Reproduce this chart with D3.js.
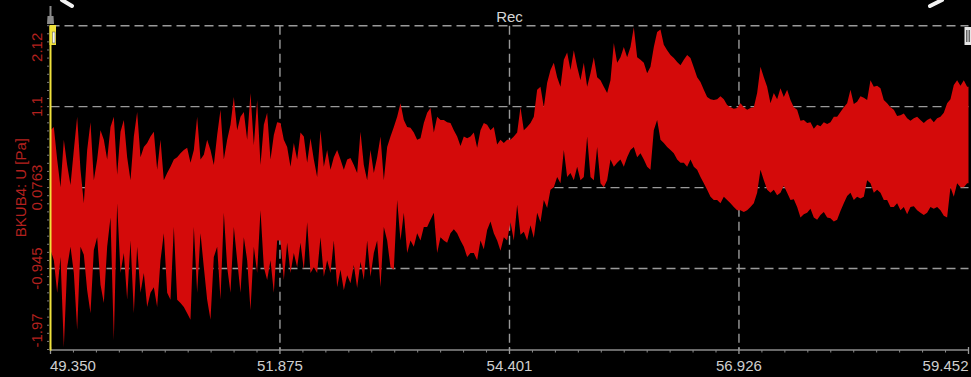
<!DOCTYPE html>
<html>
<head>
<meta charset="utf-8">
<script src="https://cdn.jsdelivr.net/npm/d3@7"></script>
<style>
  html, body { margin: 0; padding: 0; background: #000; overflow: hidden; }
  svg { display: block; }
</style>
</head>
<body>
<svg id="chart" width="971" height="377"></svg>
<script>
// ---- recording data -------------------------------------------------------
const chartTitle = "Rec";
const channelName = "BKUB4: U [Pa]";

const xTicks = [49.350, 51.875, 54.401, 56.926, 59.452];
const xTickLabels = ["49.350", "51.875", "54.401", "56.926", "59.452"];
const yTicks = [-1.9663, -0.945, 0.0763, 1.0976, 2.1189];
const yTickLabels = ["-1.97", "-0.945", "0.0763", "1.1", "2.12"];

// envelope samples (max / min of the pressure signal per display bin)
const tStart = 49.35;   // s
const tStep = 0.03668;  // s per bin

const peakMax = [
  // 49.35 s ...
  0.80,0.84,0.43,0.08,0.68,0.36,0.11,0.55,0.97,0.30,
  -0.12,0.55,0.90,0.17,0.43,0.80,0.68,0.43,0.84,0.97,
  0.24,0.78,0.93,0.46,0.17,0.72,1.03,0.46,0.59,0.64,
  0.72,0.78,0.30,0.68,0.17,0.26,0.34,0.43,0.46,0.51,
  0.55,0.58,0.39,0.55,0.97,0.43,0.49,0.68,0.55,0.36,
  0.74,1.06,0.43,0.68,0.87,1.22,0.80,0.97,1.03,0.68,
  1.27,0.61,1.18,0.36,0.87,1.02,0.43,0.74,0.90,
  // ~51.88 s ...
  0.89,0.68,0.59,0.34,0.64,0.43,0.77,0.72,0.39,0.70,
  0.43,0.21,0.80,0.34,0.55,0.30,0.46,0.55,0.43,0.30,
  0.43,0.45,0.36,0.26,0.78,0.36,0.17,0.55,0.26,0.46,
  0.72,0.17,0.59,0.72,0.84,0.97,1.14,0.93,0.84,0.83,
  0.77,0.68,0.70,0.89,1.02,1.08,0.77,0.97,0.93,0.93,
  0.90,0.89,0.80,0.72,0.60,0.72,0.70,0.72,0.77,0.58,
  0.80,0.89,0.87,0.80,0.84,0.62,0.68,0.64,0.68,
  // ~54.41 s ...
  0.68,0.72,0.77,1.09,0.80,0.84,0.89,0.97,1.31,1.35,
  1.09,1.40,1.56,1.65,1.47,1.35,1.69,1.78,1.56,1.81,
  1.60,1.43,1.65,1.35,1.52,1.72,1.47,1.43,1.35,1.27,
  1.43,1.90,1.65,1.72,1.85,1.72,1.85,2.10,1.72,1.69,
  1.65,1.52,1.60,1.85,2.04,2.07,1.88,1.81,1.75,1.71,
  1.66,1.62,1.69,1.75,1.71,1.59,1.47,1.41,1.31,1.22,
  1.19,1.18,1.19,1.23,1.19,1.12,1.09,1.07,1.08,
  // ~56.94 s ...
  1.14,1.09,1.06,1.08,1.09,1.27,1.60,1.47,1.35,1.14,
  1.27,1.19,1.33,1.22,1.31,1.18,1.09,1.06,0.92,0.93,
  0.89,0.90,0.82,0.87,0.85,0.90,0.88,0.90,0.97,0.97,
  1.03,1.09,1.14,1.31,1.13,1.16,1.23,1.21,1.18,1.43,
  1.35,1.36,1.33,1.18,1.14,1.09,1.06,0.98,0.99,1.01,
  0.95,0.92,0.95,0.97,0.93,0.89,0.93,0.95,0.90,0.95,
  0.97,1.02,1.14,1.19,1.37,1.43,1.36,1.43,1.35,1.35
];

const peakMin = [
  // 49.35 s ...
  -0.71,-0.84,-1.25,-0.80,-1.94,-0.93,-0.67,-1.00,-1.72,-0.67,
  -0.77,-1.22,-1.51,-0.71,-0.55,-1.15,-1.38,-0.67,-0.30,-1.85,
  -0.12,-1.00,-0.75,-1.34,-0.59,-1.51,-0.67,-1.25,-1.00,-1.43,
  -1.25,-1.18,-1.43,-0.84,-0.50,-1.25,-1.34,-0.42,-1.34,-1.38,
  -1.43,-1.51,-1.59,-0.42,-1.25,-0.50,-0.93,-1.34,-1.59,-0.80,
  -0.67,-1.34,-0.24,-0.93,-1.25,-0.42,-0.84,-1.25,-0.55,-0.84,
  -1.47,-0.67,-1.00,-0.21,-0.93,-1.09,-0.84,-1.25,-0.59,
  // ~51.88 s ...
  -0.59,-1.09,-0.62,-1.00,-0.75,-0.93,-0.62,-0.96,-0.36,-1.00,
  -0.93,-1.00,-0.55,-1.05,-0.84,-1.00,-0.59,-1.18,-0.96,-1.22,
  -1.03,-1.13,-0.90,-1.19,-0.86,-1.09,-0.59,-1.05,-0.75,-0.59,
  -1.18,-0.42,-0.59,-0.93,-0.96,-0.08,-0.59,-0.24,-0.75,-0.59,
  -0.67,-0.50,-0.59,-0.42,-0.42,-0.33,-0.24,-0.75,-0.55,-0.59,
  -0.62,-0.50,-0.45,-0.50,-0.59,-0.67,-0.80,-0.75,-0.75,-0.84,
  -0.59,-0.70,-0.46,-0.35,-0.50,-0.59,-0.72,-0.55,-0.59,
  // ~54.41 s ...
  -0.36,-0.59,-0.14,-0.52,-0.48,-0.59,-0.40,-0.56,-0.24,-0.36,
  -0.08,-0.18,0.05,0.08,0.21,0.13,0.55,0.21,0.26,0.17,
  0.34,0.17,0.21,0.72,0.21,0.17,0.59,0.13,0.08,0.17,
  0.43,0.34,0.39,0.43,0.34,0.46,0.55,0.59,0.46,0.51,
  0.43,0.34,0.30,0.80,0.93,0.68,0.64,0.59,0.55,0.51,
  0.43,0.39,0.39,0.34,0.43,0.34,0.30,0.21,0.13,0.05,
  -0.04,-0.08,-0.08,-0.12,-0.04,-0.08,-0.12,-0.17,-0.21,
  // ~56.94 s ...
  -0.21,-0.23,-0.21,-0.17,-0.12,0.01,0.30,0.17,0.05,0.01,
  0.05,-0.02,0.01,0.10,0.01,-0.08,-0.07,-0.17,-0.30,-0.26,
  -0.24,-0.19,-0.30,-0.33,-0.27,-0.23,-0.30,-0.31,-0.35,-0.33,
  -0.22,-0.12,-0.03,0.01,-0.08,-0.04,-0.06,-0.04,0.17,0.13,
  0.01,0.05,0.01,-0.08,-0.08,-0.17,-0.17,-0.12,-0.21,-0.17,
  -0.26,-0.17,-0.16,-0.21,-0.24,-0.27,-0.24,-0.17,-0.19,-0.17,
  -0.21,-0.28,-0.30,0.08,-0.04,0.13,0.08,0.08,0.13,0.13
];

// ---- layout ---------------------------------------------------------------
const plot = { left: 50.5, right: 968.5, top: 25.7, bottom: 349.5 };
const gridColor = "#9a9a9a";
const signalColor = "#d40a0a";
const axisTextRed = "#b3201e";
const font = "'Liberation Sans', Arial, sans-serif";

const svg = d3.select("#chart");
svg.append("rect").attr("width", 971).attr("height", 377).attr("fill", "#000");

const x = d3.scaleLinear().domain([xTicks[0], xTicks[xTicks.length - 1]])
  .range([plot.left, plot.right]);
const y = d3.scaleLinear().domain([yTicks[0], yTicks[yTicks.length - 1]])
  .range([plot.bottom, plot.top]);

const samples = peakMax.map((hi, i) => ({ t: tStart + i * tStep, hi, lo: peakMin[i] }));

// ---- grid -----------------------------------------------------------------
const grid = svg.append("g")
  .attr("stroke", gridColor).attr("stroke-width", 1.4)
  .attr("stroke-dasharray", "9,5");
grid.selectAll("line.h").data(yTicks.slice(1)).join("line")
  .attr("class", "h")
  .attr("x1", plot.left).attr("x2", plot.right)
  .attr("y1", d => y(d)).attr("y2", d => y(d));
grid.selectAll("line.v").data(xTicks.slice(1, -1)).join("line")
  .attr("class", "v")
  .attr("x1", d => x(d)).attr("x2", d => x(d))
  .attr("y1", plot.top).attr("y2", plot.bottom);

// ---- signal envelope ------------------------------------------------------
svg.append("clipPath").attr("id", "plotClip")
  .append("rect")
  .attr("x", plot.left).attr("y", plot.top - 1)
  .attr("width", plot.right - plot.left)
  .attr("height", plot.bottom - plot.top + 1);

const area = d3.area()
  .x(d => x(d.t))
  .y0(d => y(d.lo))
  .y1(d => y(d.hi))
  .curve(d3.curveLinear);

svg.append("path")
  .datum(samples)
  .attr("clip-path", "url(#plotClip)")
  .attr("fill", signalColor)
  .attr("d", area);

// ---- x axis ---------------------------------------------------------------
const axisY = plot.bottom + 0.5;
svg.append("line")
  .attr("x1", plot.left).attr("x2", plot.right)
  .attr("y1", axisY).attr("y2", axisY)
  .attr("stroke", "#8c8c8c").attr("stroke-width", 1.5);

const minorX = [];
for (let k = 0; k < xTicks.length - 1; k++) {
  const step = (xTicks[k + 1] - xTicks[k]) / 10;
  for (let j = 1; j < 10; j++) minorX.push(xTicks[k] + j * step);
}
svg.append("g").selectAll("line").data(minorX).join("line")
  .attr("x1", d => x(d)).attr("x2", d => x(d))
  .attr("y1", axisY).attr("y2", axisY + 2.5)
  .attr("stroke", "#8c8c8c").attr("stroke-width", 1);
svg.append("g").selectAll("line").data(xTicks).join("line")
  .attr("x1", d => x(d)).attr("x2", d => x(d))
  .attr("y1", axisY - 3).attr("y2", axisY + 4)
  .attr("stroke", "#9a9a9a").attr("stroke-width", 1.3);

svg.append("g").selectAll("text").data(xTicks).join("text")
  .attr("x", (d, i) => i === 0 ? x(d) - 0.5 : x(d))
  .attr("y", 370.5)
  .attr("text-anchor", (d, i) => i === 0 ? "start" : (i === xTicks.length - 1 ? "end" : "middle"))
  .attr("fill", "#cfcfcf")
  .attr("font-family", font).attr("font-size", 15)
  .text((d, i) => xTickLabels[i]);

// ---- y axis ---------------------------------------------------------------
const minorY = [];
for (let k = 0; k < yTicks.length - 1; k++) {
  const step = (yTicks[k + 1] - yTicks[k]) / 10;
  for (let j = 0; j < 10; j++) minorY.push(yTicks[k] + j * step);
}
minorY.push(yTicks[yTicks.length - 1]);
svg.append("g").selectAll("line").data(minorY).join("line")
  .attr("x1", 47).attr("x2", 49)
  .attr("y1", d => y(d)).attr("y2", d => y(d))
  .attr("stroke", "#7a7a7a").attr("stroke-width", 1);

svg.append("line")
  .attr("x1", 50.5).attr("x2", 50.5)
  .attr("y1", plot.top).attr("y2", plot.bottom + 1)
  .attr("stroke", "#f0e23c").attr("stroke-width", 2);

const last = yTicks.length - 1;
svg.append("g").selectAll("text").data(yTicks).join("text")
  .attr("transform", (d, i) => {
    const py = i === 0 ? plot.bottom - 2 : (i === last ? plot.top + 7 : y(d));
    return `translate(42,${py}) rotate(-90)`;
  })
  .attr("text-anchor", (d, i) => i === 0 ? "start" : (i === last ? "end" : "middle"))
  .attr("fill", axisTextRed)
  .attr("font-family", font).attr("font-size", 15)
  .text((d, i) => yTickLabels[i]);

svg.append("text")
  .attr("transform", `translate(26,${(plot.top + plot.bottom) / 2}) rotate(-90)`)
  .attr("text-anchor", "middle")
  .attr("fill", axisTextRed)
  .attr("font-family", font).attr("font-size", 15)
  .text(channelName);

// ---- title ----------------------------------------------------------------
svg.append("text")
  .attr("x", (plot.left + plot.right) / 2).attr("y", 22)
  .attr("text-anchor", "middle")
  .attr("fill", "#d6d6d6")
  .attr("font-family", font).attr("font-size", 15)
  .text(chartTitle);

// ---- cursors and frame decorations ----------------------------------------
const deco = svg.append("g");
// left cursor handle
deco.append("line").attr("x1", 50.5).attr("x2", 50.5).attr("y1", 6).attr("y2", 17)
  .attr("stroke", "#8a8a8a").attr("stroke-width", 2);
deco.append("path").attr("d", "M47.5,16 L53.5,16 L54,24 L47,24 Z").attr("fill", "#8a8a8a");
deco.append("rect").attr("x", 49.5).attr("y", 25).attr("width", 6.5).attr("height", 20)
  .attr("fill", "#f0e23c");
deco.append("rect").attr("x", 52.5).attr("y", 32).attr("width", 2.5).attr("height", 11)
  .attr("fill", "#f4f4f4").attr("stroke", "#555").attr("stroke-width", 0.5);
// right cursor handle
deco.append("rect").attr("x", 964.5).attr("y", 27).attr("width", 6.5).attr("height", 18)
  .attr("fill", "#e6e6e6");
deco.selectAll("line.bar").data([966.5, 968, 969.5]).join("line")
  .attr("class", "bar")
  .attr("x1", d => d).attr("x2", d => d).attr("y1", 30).attr("y2", 42)
  .attr("stroke", "#444").attr("stroke-width", 0.8);
// window frame strokes
deco.append("line").attr("x1", 62).attr("y1", 0).attr("x2", 72).attr("y2", 6)
  .attr("stroke", "#f2f2f2").attr("stroke-width", 4).attr("stroke-linecap", "round");
deco.append("line").attr("x1", 942).attr("y1", 0).attr("x2", 930).attr("y2", 6)
  .attr("stroke", "#f2f2f2").attr("stroke-width", 4).attr("stroke-linecap", "round");
</script>
</body>
</html>
